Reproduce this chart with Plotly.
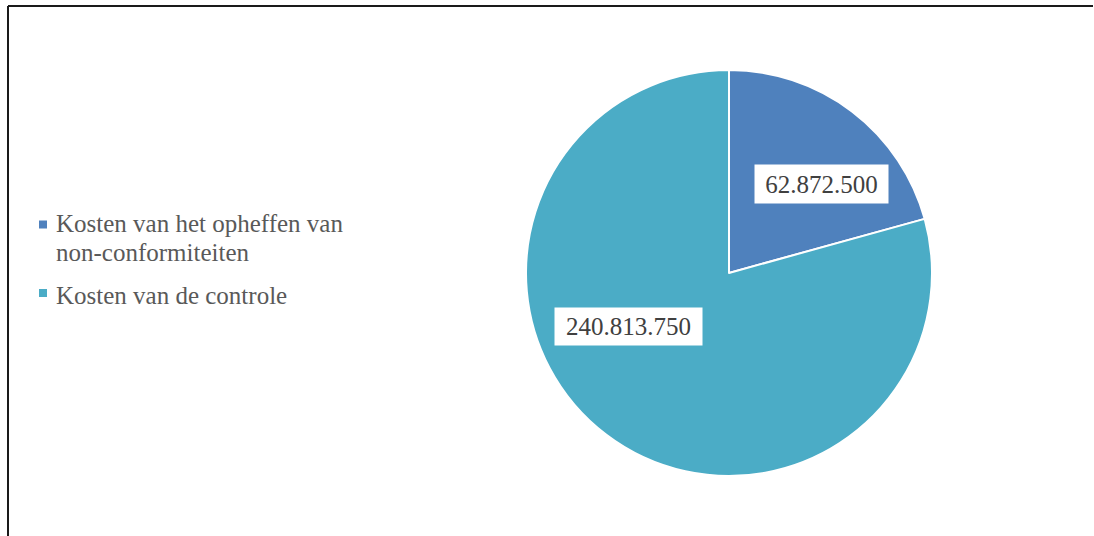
import plotly.graph_objects as go

categories = ["Kosten van het opheffen van non-conformiteiten", "Kosten van de controle"]
legend_lines = [["Kosten van het opheffen van", "non-conformiteiten"], ["Kosten van de controle"]]
values = [62872500, 240813750]
value_labels = ["62.872.500", "240.813.750"]
colors = ["#4F81BD", "#4BACC6"]

W, H = 1094, 536
def px(x):
    return x / W
def py(y):
    return 1 - y / H

FONT = "Liberation Serif"

fig = go.Figure()
fig.add_trace(go.Pie(
    labels=categories, values=values, sort=False, direction="clockwise", rotation=0,
    marker=dict(colors=colors, line=dict(color="white", width=2)),
    textinfo="none", hoverinfo="label+value", showlegend=False,
    domain=dict(x=[px(526), px(932)], y=[py(476), py(70)]),
))

# value labels in white boxes
label_boxes = [(821.5, 184, 133, 38), (628.5, 326.5, 147, 37)]
for (x, y, w, h), t in zip(label_boxes, value_labels):
    fig.add_annotation(x=px(x), y=py(y), xref="paper", yref="paper", text=t, showarrow=False,
                       font=dict(family=FONT, size=25, color="#404040"), bgcolor="white",
                       borderpad=0, width=w, height=h, xanchor="center", yanchor="middle")

# legend
square_y = [224.5, 293]
line_y0 = [223, 295]
for sy, ly, lines, c in zip(square_y, line_y0, legend_lines, colors):
    fig.add_shape(type="rect", xref="paper", yref="paper", x0=px(39), x1=px(47), y0=py(sy - 4), y1=py(sy + 4),
                  fillcolor=c, line=dict(width=0))
    for i, t in enumerate(lines):
        fig.add_annotation(x=px(55), y=py(ly + 29 * i), xref="paper", yref="paper", text=t, showarrow=False,
                           font=dict(family=FONT, size=25, color="#595959"), align="left",
                           xanchor="left", yanchor="middle", borderpad=0)

# border
fig.add_shape(type="line", xref="paper", yref="paper", x0=px(8), x1=px(1093), y0=py(6), y1=py(6),
              line=dict(color="#1a1a1a", width=2))
fig.add_shape(type="line", xref="paper", yref="paper", x0=px(8), x1=px(8), y0=py(6), y1=0,
              line=dict(color="#1a1a1a", width=2))

fig.update_layout(width=W, height=H, margin=dict(l=0, r=0, t=0, b=0),
                  paper_bgcolor="white", plot_bgcolor="white")
fig.write_html("out.html", config={"displayModeBar": False},
               post_script="document.body.style.margin='0px';")
